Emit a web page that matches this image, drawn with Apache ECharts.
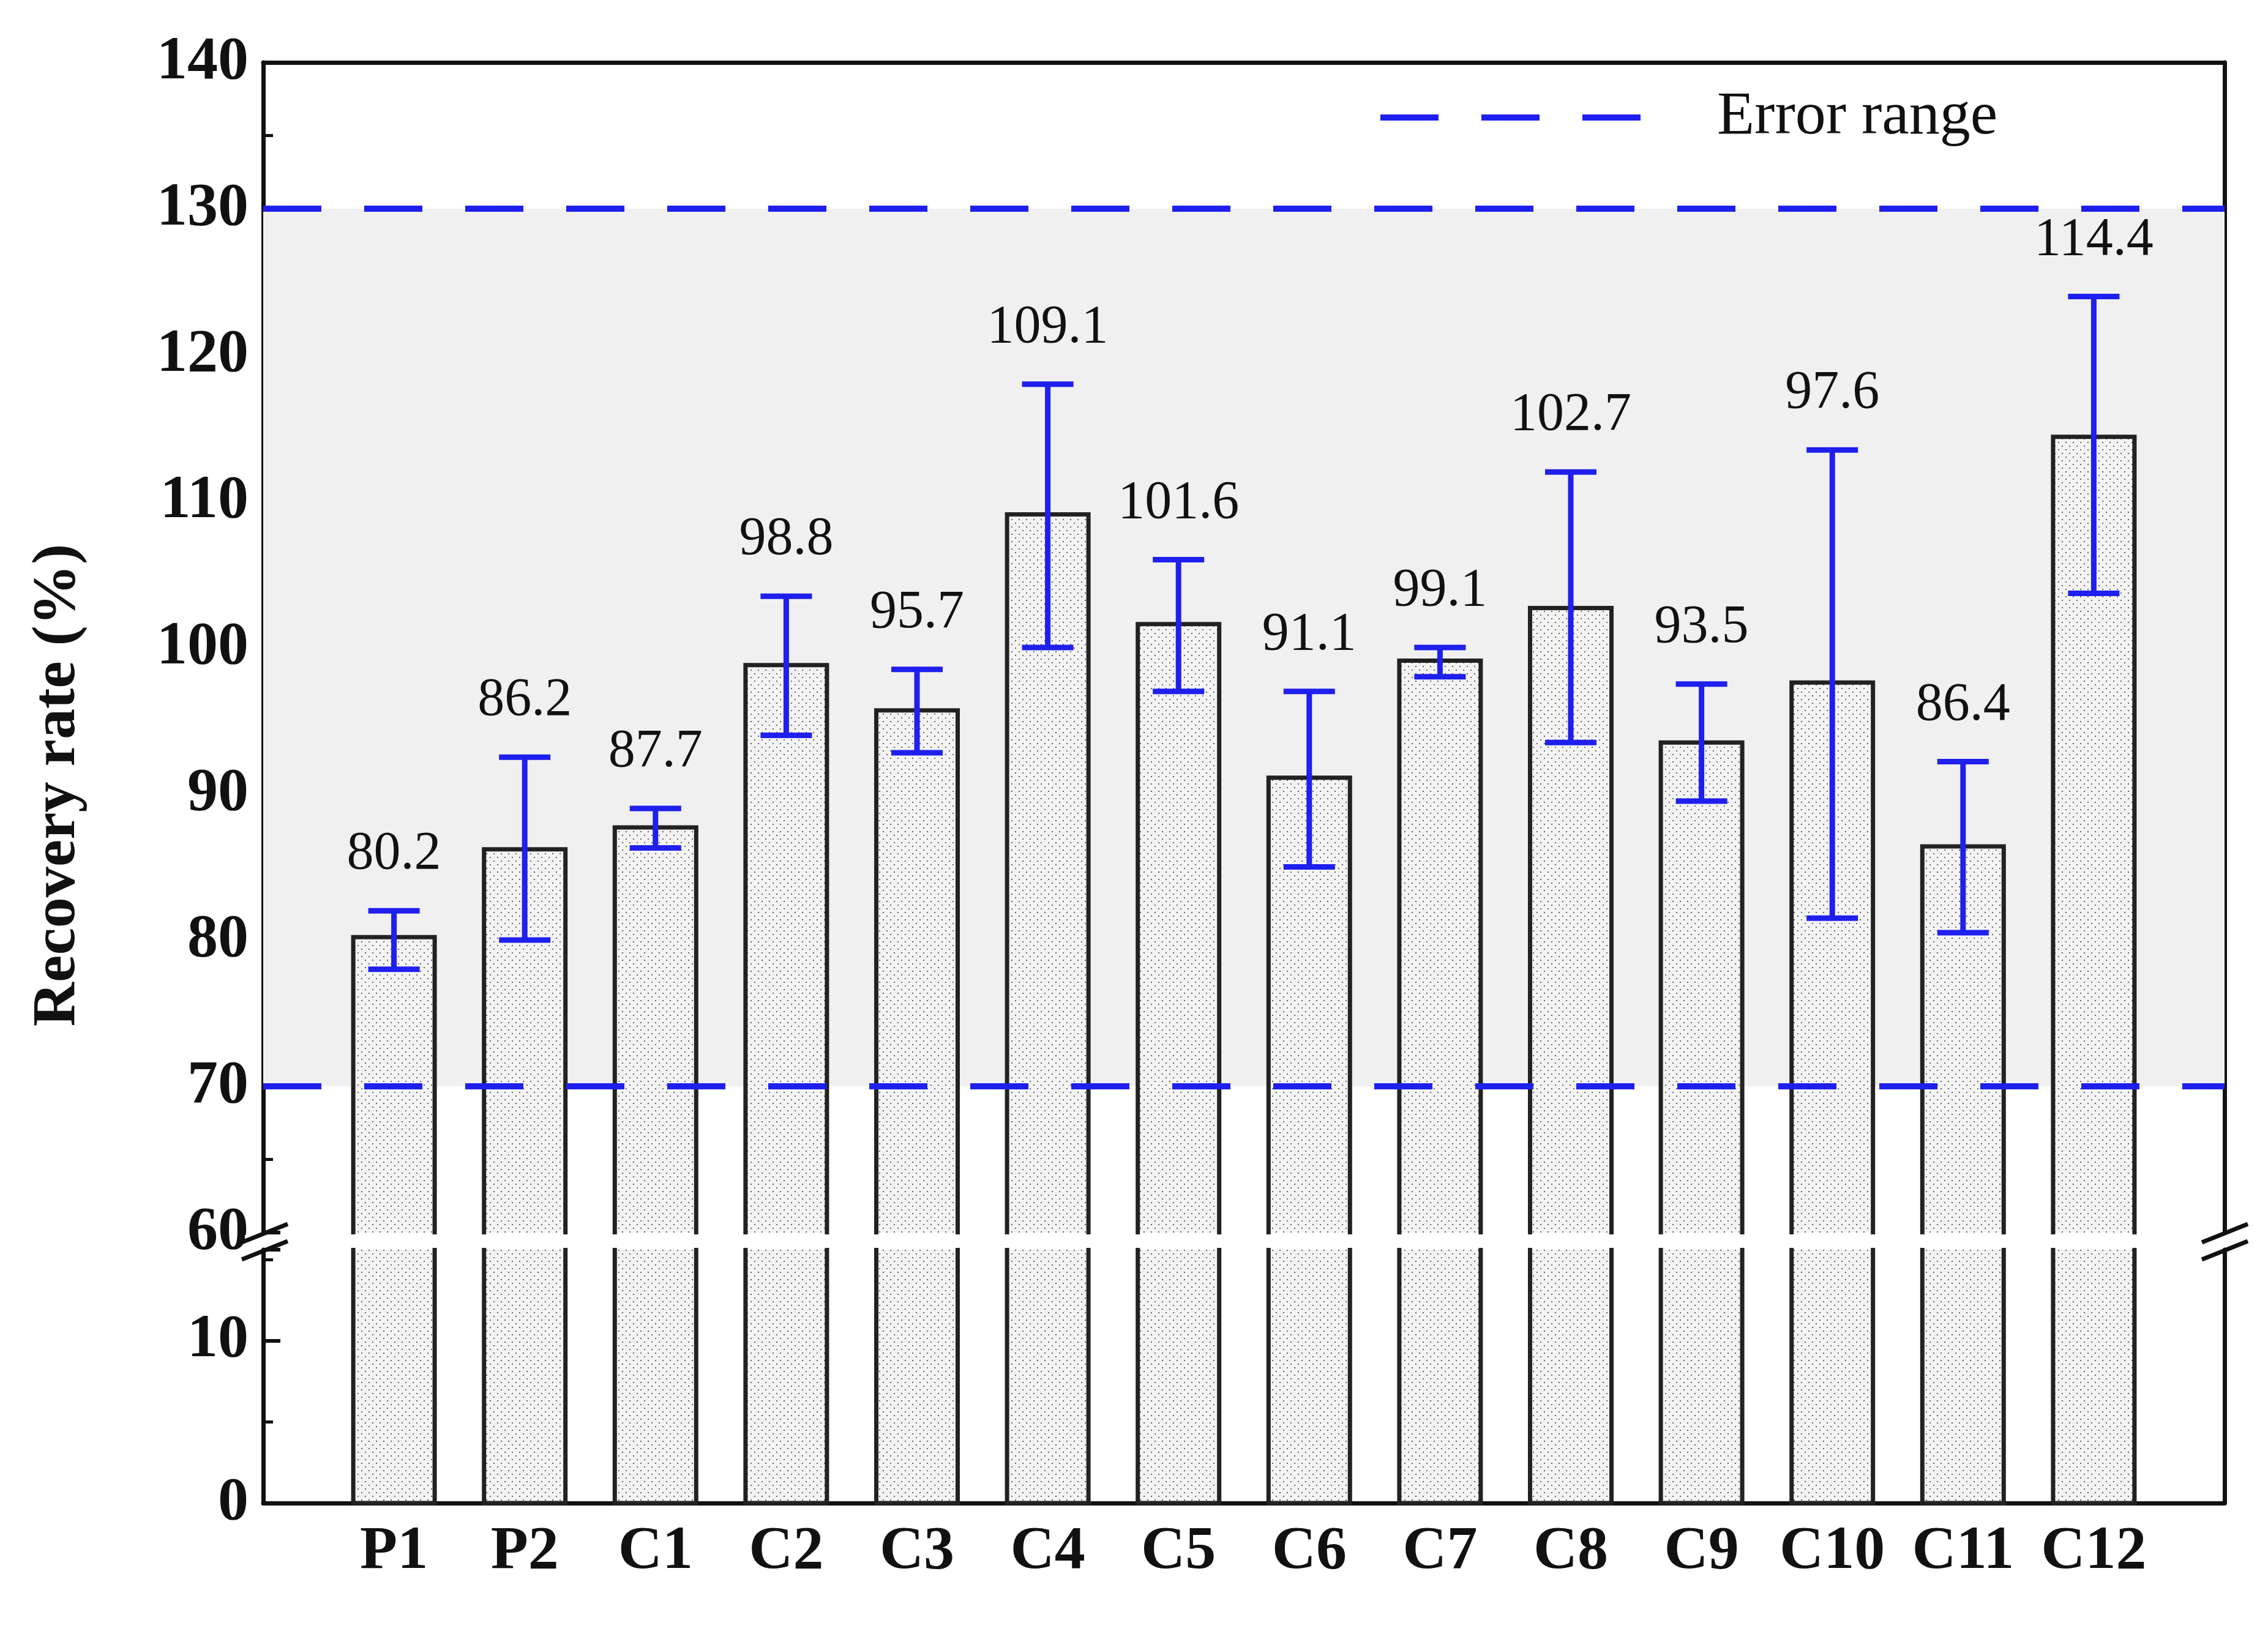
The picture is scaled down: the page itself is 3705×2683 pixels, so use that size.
<!DOCTYPE html>
<html>
<head>
<meta charset="utf-8">
<script src="https://cdn.jsdelivr.net/npm/echarts@6/dist/echarts.min.js"></script>
<style>html,body{margin:0;padding:0;background:#fff}#main{width:3705px;height:2683px}</style>
</head>
<body>
<div id="main"></div>
<script>
var categories = ['P1','P2','C1','C2','C3','C4','C5','C6','C7','C8','C9','C10','C11','C12'];
var recovery = [80.2,86.2,87.7,98.8,95.7,109.1,101.6,91.1,99.1,102.7,93.5,97.6,86.4,114.4];
var errLow  = [78,80,86.3,94,92.8,100,97,85,98,93.5,89.5,81.5,80.5,103.7];
var errHigh = [82,92.5,89,103.5,98.5,118,106,97,100,112,97.5,113.5,92.2,124];
var errorRange = [70,130];

var FONT = '"Liberation Serif", "Times New Roman", serif';
var BLUE = '#1f1fee';
var BAR_W = 133;

// dotted fill for bars
var pat = document.createElement('canvas');
pat.width = 12; pat.height = 12;
var pc = pat.getContext('2d');
pc.fillStyle = '#f3f3f3'; pc.fillRect(0,0,12,12);
pc.fillStyle = '#666'; pc.fillRect(2,2,2,2); pc.fillRect(8,8,2,2);
var barFill = {image: pat, repeat: 'repeat'};

var barData = recovery.map(function(v,i){ return [i,v]; });
var errData = recovery.map(function(v,i){ return [i,errLow[i],errHigh[i],v]; });

var chart = echarts.init(document.getElementById('main'));

function xAxisBase(grid, show, line) {
  return {
    type: 'value', gridIndex: grid, min: -1, max: 14, interval: 1,
    axisLine: {show: line, onZero: false, lineStyle: {color: '#111', width: 7}},
    axisTick: {show: false}, splitLine: {show: false},
    axisLabel: {show: show, margin: 30, fontFamily: FONT, fontWeight: 'bold', fontSize: 100, color: '#111',
      formatter: function(v){ return categories[v] || ''; }}
  };
}
function yAxisBase(grid, min, max, show, right) {
  return {
    type: 'value', gridIndex: grid, min: min, max: max, interval: 10, position: right ? 'right' : 'left',
    axisLine: {show: true, onZero: false, lineStyle: {color: '#111', width: 7}},
    axisTick: {show: !right, inside: true, length: 28, lineStyle: {width: 6, color: '#111'}},
    minorTick: {show: !right, splitNumber: 2, length: 16, lineStyle: {width: 5, color: '#111'}},
    splitLine: {show: false},
    axisLabel: {show: show, margin: 24, fontFamily: FONT, fontWeight: 'bold', fontSize: 100, color: '#111',
      formatter: function(v){ return v % 10 === 0 ? v : ''; }}
  };
}

// upper bar part: fill + left, top, right edges (open at the break)
function upperBar(params, api) {
  var x = api.value(0);
  var base = api.coord([x, 60]);
  var top = api.coord([x, api.value(1)]);
  var l = base[0] - BAR_W/2, r = base[0] + BAR_W/2;
  return {type: 'group', children: [
    {type: 'rect', shape: {x: l, y: top[1], width: BAR_W, height: base[1]-top[1]}, style: {fill: barFill}},
    {type: 'polyline', shape: {points: [[l, base[1]+3], [l, top[1]], [r, top[1]], [r, base[1]+3]]},
      style: {stroke: '#222', lineWidth: 7, fill: null}}
  ]};
}
// lower bar part: fill + side edges from 0 up to the break
function lowerBar(params, api) {
  var x = api.value(0);
  var base = api.coord([x, 0]);
  var topY = params.coordSys.y;
  var l = base[0] - BAR_W/2, r = base[0] + BAR_W/2;
  return {type: 'group', children: [
    {type: 'rect', shape: {x: l, y: topY, width: BAR_W, height: base[1]-topY}, style: {fill: barFill}},
    {type: 'polyline', shape: {points: [[l, topY-3], [l, base[1]], [r, base[1]], [r, topY-3]]},
      style: {stroke: '#222', lineWidth: 7, fill: null}}
  ]};
}

function errRender(params, api) {
  var x = api.value(0);
  var lo = api.coord([x, api.value(1)]);
  var hi = api.coord([x, api.value(2)]);
  var half = 42;
  var st = {stroke: BLUE, lineWidth: 9};
  return {type: 'group', children: [
    {type: 'line', shape: {x1: lo[0], y1: lo[1], x2: hi[0], y2: hi[1]}, style: st},
    {type: 'line', shape: {x1: lo[0]-half, y1: lo[1], x2: lo[0]+half, y2: lo[1]}, style: st},
    {type: 'line', shape: {x1: hi[0]-half, y1: hi[1], x2: hi[0]+half, y2: hi[1]}, style: st},
    {type: 'text', style: {x: hi[0], y: hi[1]-48, text: api.value(3).toFixed(1), textAlign: 'center',
      textVerticalAlign: 'bottom', font: '88px ' + FONT, fill: '#111'}}
  ]};
}

chart.setOption({
  backgroundColor: '#fff',
  animation: false,
  grid: [
    {left: 430, right: 71, top: 102, bottom: 669},
    {left: 430, right: 71, top: 2042, bottom: 227}
  ],
  xAxis: [
    xAxisBase(0, false, false), Object.assign(xAxisBase(0, false, true), {position: 'top'}),
    xAxisBase(1, true, true)
  ],
  yAxis: [
    yAxisBase(0, 60, 140, true, false), yAxisBase(0, 60, 140, false, true),
    yAxisBase(1, 0, 15.6, true, false), yAxisBase(1, 0, 15.6, false, true)
  ],
  series: [
    {
      type: 'custom', xAxisIndex: 0, yAxisIndex: 0, data: barData, renderItem: upperBar, z: 3,
      encode: {x: 0, y: 1}, clip: false,
      markArea: {silent: true, itemStyle: {color: '#f0f0f0'}, data: [[{yAxis: errorRange[0]}, {yAxis: errorRange[1]}]]},
      markLine: {silent: true, symbol: 'none', label: {show: false}, z: 5,
        lineStyle: {color: BLUE, width: 10, type: [95, 70]},
        data: errorRange.map(function(v){ return {yAxis: v}; })}
    },
    {
      type: 'custom', xAxisIndex: 2, yAxisIndex: 2, data: barData, renderItem: lowerBar, z: 3,
      encode: {x: 0, y: 1}, clip: false
    },
    {
      type: 'custom', xAxisIndex: 0, yAxisIndex: 0, data: errData, renderItem: errRender, z: 10,
      encode: {x: 0, y: [1, 2]}, clip: false
    }
  ],
  graphic: [
    {type: 'line', shape: {x1: 2255, y1: 192, x2: 2695, y2: 192}, style: {stroke: BLUE, lineWidth: 10, lineDash: [95, 70]}},
    {type: 'text', left: 2805, top: 142, style: {text: 'Error range', font: '100px ' + FONT, fill: '#111'}},
    {type: 'rect', shape: {x: 400, y: 2018, width: 60, height: 20}, style: {fill: '#fff'}, z: 100},
    {type: 'rect', shape: {x: 3604, y: 2018, width: 60, height: 20}, style: {fill: '#fff'}, z: 100},
    {type: 'line', shape: {x1: 395, y1: 2030, x2: 470, y2: 2000}, style: {stroke: '#111', lineWidth: 7}, z: 101},
    {type: 'line', shape: {x1: 395, y1: 2058, x2: 470, y2: 2028}, style: {stroke: '#111', lineWidth: 7}, z: 101},
    {type: 'line', shape: {x1: 3597, y1: 2030, x2: 3672, y2: 2000}, style: {stroke: '#111', lineWidth: 7}, z: 101},
    {type: 'line', shape: {x1: 3597, y1: 2058, x2: 3672, y2: 2028}, style: {stroke: '#111', lineWidth: 7}, z: 101},
    {type: 'text', rotation: Math.PI/2, x: 95, y: 1283, style: {text: 'Recovery rate (%)', font: 'bold 100px ' + FONT,
      fill: '#111', textAlign: 'center', textVerticalAlign: 'middle'}}
  ]
});
</script>
</body>
</html>
